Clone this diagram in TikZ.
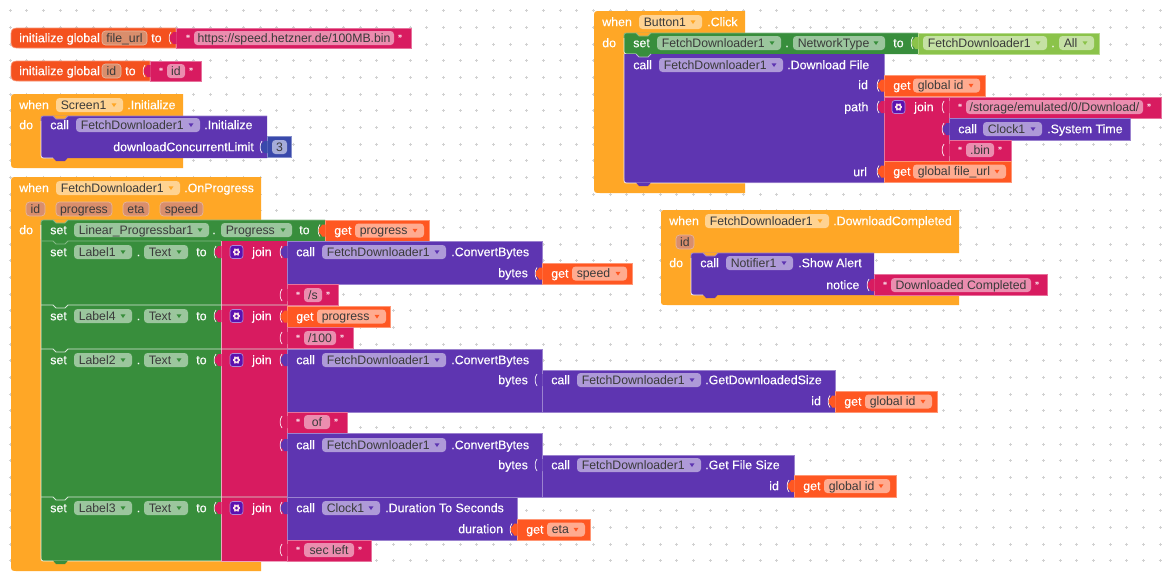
\documentclass[tikz,border=0pt]{standalone}
\usepackage{fontspec}
\setmainfont{Liberation Sans}
\newfontfamily\wf[FakeBold=0.3]{Liberation Sans}
\definecolor{ored}{HTML}{F4511E}
\definecolor{oget}{HTML}{FF5722}
\definecolor{mag}{HTML}{D81B60}
\definecolor{pur}{HTML}{5E35B1}
\definecolor{grn}{HTML}{388E3C}
\definecolor{lgrn}{HTML}{8BC34A}
\definecolor{amb}{HTML}{FFA726}
\definecolor{blu}{HTML}{3949AB}
\definecolor{brn}{HTML}{D98E6C}
\definecolor{ink}{HTML}{3A3A3A}
\definecolor{cogc}{HTML}{5B10B0}
\newcounter{nd}
\tikzset{
 wtext/.style={anchor=base west,inner sep=0pt,text=white,font=\wf\fontsize{9.3}{11}\selectfont},
 dtext/.style={anchor=base,inner sep=0pt,text=ink,font=\fontsize{9.2}{11}\selectfont},
 dltext/.style={anchor=base west,inner sep=0pt,text=ink,font=\fontsize{9.2}{11}\selectfont},
 rim/.style={line width=.55pt,draw=#1!62!white,fill=#1},
}
% plain block
\newcommand{\blk}[5]{\path[rim=#1] (#2,#3) rectangle (#4,#5);}
% block with rounded left corners
\newcommand{\lblk}[5]{\path[rim=#1] (#4,#3) -- ({#2+8},#3) .. controls ({#2+1},#3) and (#2,{#3+1}) .. (#2,{#3+8}) -- (#2,{#5-8}) .. controls (#2,{#5-1}) and ({#2+1},#5) .. ({#2+8},#5) -- (#4,#5) -- cycle;}
% C-block background without rim
\newcommand{\hatb}[5]{\path[fill=#1] (#4,#3) -- ({#2+7},#3) .. controls (#2,#3) and (#2,#3) .. (#2,{#3+7}) -- (#2,{#5-7}) .. controls (#2,#5) and (#2,#5) .. ({#2+7},#5) -- (#4,#5) -- cycle;}
% statement block inside a do: white-rimmed left edge, rounded corners
\newcommand{\stm}[5]{\path[fill=#1] (#4,#3) -- ({#2+5},#3) .. controls (#2,#3) and (#2,#3) .. (#2,{#3+5}) -- (#2,{#5-5}) .. controls (#2,#5) and (#2,#5) .. ({#2+5},#5) -- (#4,#5) -- cycle;
 \draw[line width=.55pt,white!90!#1] (#2,{#3+5}) -- (#2,{#5-5}) .. controls (#2,#5) and (#2,#5) .. ({#2+5},#5) -- ({#2+12},#5);
 \draw[line width=.55pt,#1!62!white] (#4,#3) -- ({#2+5},#3) .. controls (#2,#3) and (#2,#3) .. (#2,{#3+5});}
% top notch of a statement
\newcommand{\notch}[4]{\path[fill=#3] ({#1+12},{#2-.5}) -- ({#1+15},{#2+3}) -- ({#1+24},{#2+3}) -- ({#1+27},{#2-.5}) -- cycle;
 \draw[line width=.55pt,#4] ({#1+12},#2) -- ({#1+15},{#2+3}) -- ({#1+24},{#2+3}) -- ({#1+27},#2);}
% bottom bump of a statement
\newcommand{\bump}[3]{\path[fill=#3] ({#1+12},{#2-.5}) -- ({#1+15},{#2+3}) -- ({#1+24},{#2+3}) -- ({#1+27},{#2-.5}) -- cycle;}
% line between stacked statements
\newcommand{\sep}[4]{\draw[line width=.55pt,#4] (#1,#2) -- ({#1+12},#2) -- ({#1+15},{#2+3}) -- ({#1+24},{#2+3}) -- ({#1+27},#2) -- (#3,#2);}
% output tab: child colour blob with a light arc on its left
\newcommand{\tab}[3]{\path[fill=#3] ({#1+.5},{#2-6}) -- ({#1-3},{#2-6}) .. controls ({#1-4},{#2-2}) and ({#1-7},{#2-4}) .. ({#1-6},{#2}) .. controls ({#1-7},{#2+4}) and ({#1-4},{#2+2}) .. ({#1-3},{#2+6}) -- ({#1+.5},{#2+6}) -- cycle;
 \draw[line width=.55pt,white!85!#3] ({#1-5},{#2-6}) .. controls ({#1-7.5},{#2-3}) and ({#1-7.5},{#2+3}) .. ({#1-5},{#2+6});}
% white label (x, centre y)
\newcommand{\lab}[3]{\stepcounter{nd}\node[wtext] (n\thend) at (#1,{#2+4.2}) {#3};}
% dropdown field
\newcommand{\pill}[5]{\path[fill=white,fill opacity=.5,rounded corners=2.6pt] (#1,{#3-7}) rectangle (#2,{#3+7});
 \stepcounter{nd}\node[dltext] (n\thend) at ({#1+4.5},{#3+4.2}) {#4};
 \path[fill=#5] ({#2-11.5},{#3-1.7}) -- ({#2-6.5},{#3-1.7}) -- ({#2-9},{#3+2}) -- cycle;}
% string field with quotes
\newcommand{\strf}[4]{\stepcounter{nd}\node[wtext] (n\thend) at ({#1-8},{#3+4.2}) {\fontsize{8}{9}\selectfont “};
 \path[fill=white,fill opacity=.5,rounded corners=2.6pt] (#1,{#3-7}) rectangle (#2,{#3+7});
 \stepcounter{nd}\node[dtext] (n\thend) at ({(#1+#2)/2},{#3+4.2}) {#4};
 \stepcounter{nd}\node[wtext] (n\thend) at ({#2+4},{#3+4.2}) {\fontsize{8}{9}\selectfont ”};}
% parameter field
\newcommand{\vpill}[4]{\path[fill=brn,draw=brn!65!white,line width=.5pt,rounded corners=2.6pt] (#1,{#3-7}) rectangle (#2,{#3+7});
 \stepcounter{nd}\node[dtext] (n\thend) at ({(#1+#2)/2},{#3+4.2}) {#4};}
% join mutator icon
\newcommand{\cog}[2]{\path[fill=cogc,draw=white!50!cogc,line width=.5pt,rounded corners=2pt] ({#1-6.5},{#2-6.5}) rectangle ({#1+6.5},{#2+6.5});
 \foreach \a in {0,60,...,300} {\draw[white!85!mag,line width=1.1pt] (#1,#2) -- +(\a:3.9);}
 \path[fill=white!85!mag] (#1,#2) circle[radius=3.2];
 \path[fill=cogc] (#1,#2) circle[radius=1.5];}
% 'get' block
\newcommand{\getb}[7]{\blk{oget}{#1}{#3}{#2}{#4}\tab{#1}{(#3+#4)/2}{oget}\lab{{#1+9}}{(#3+#4)/2}{get}\pill{#5}{#6}{(#3+#4)/2}{#7}{oget}}
\begin{document}
\begin{tikzpicture}[x=.75pt,y=-.75pt]
\useasboundingbox (0,0) rectangle (1170,576);
\fill[white] (0,0) rectangle (1170,576);
% workspace dots
\foreach \i in {0,...,69}{\foreach \j in {0,...,33}{
 \draw[line width=.35pt,black!18] ({10+16.667*\i-1.5},{10.67+16.667*\j}) -- ++(3,0) ({10+16.667*\i},{10.67+16.667*\j-1.5}) -- ++(0,3);}}
%
% initialize global file_url
\lblk{ored}{11}{28}{176}{48}
\lab{19}{38}{initialize global}\vpill{102}{147}{38}{file\_url}\lab{151}{38}{to}
\blk{mag}{176}{28}{411}{48}\tab{176}{38}{mag}
\strf{194}{394}{38}{https://speed.hetzner.de/100MB.bin}
% initialize global id
\lblk{ored}{11}{61}{150}{81}
\lab{19}{71}{initialize global}\vpill{102}{121}{71}{id}\lab{125}{71}{to}
\blk{mag}{150}{61}{201}{81}\tab{150}{71}{mag}
\strf{167}{185}{71}{id}
%
% when Screen1.Initialize
\hatb{amb}{11}{94}{183}{168}
\lab{19}{105}{when}\pill{56}{123}{105}{Screen1}{amb}\lab{127}{105}{.Initialize}
\lab{19}{125}{do}
\stm{pur}{41}{116}{267}{158}\notch{41}{116}{amb}{pur!62!white}\bump{41}{158}{pur}
\lab{50}{125}{call}\pill{76}{200}{125}{FetchDownloader1}{pur}\lab{204}{125}{.Initialize}
\lab{113}{147}{downloadConcurrentLimit}
\blk{blu}{267}{136}{291}{157}\tab{267}{147}{blu}
\path[fill=white,fill opacity=.55,rounded corners=2.6pt] (272,140) rectangle (287,154);
\stepcounter{nd}\node[dtext] (n\thend) at (279.5,151.2) {3};
%
% when FetchDownloader1.OnProgress
\hatb{amb}{11}{177}{261}{571}
\lab{19}{188}{when}\pill{56}{180}{188}{FetchDownloader1}{amb}\lab{184}{188}{.OnProgress}
\vpill{26}{45}{209}{id}\vpill{56}{112}{209}{progress}\vpill{123}{149}{209}{eta}\vpill{160}{203}{209}{speed}
\lab{19}{230}{do}
% green column
\stm{grn}{41}{220}{325}{241}
\notch{41}{220}{amb}{grn!62!white}
\path[fill=grn] (41.3,225) rectangle (221,561);
\path[fill=amb] (40,556) -- (41,561) -- (46,561) .. controls (41,561) and (41,561) .. (41,556) -- cycle;
\draw[line width=.55pt,white!90!grn] (41,225) -- (41,556) .. controls (41,561) and (41,561) .. (46,561) -- (221,561);
\bump{41}{561}{grn}
% magenta join column
\path[fill=mag] (221,241) rectangle (287,561);
\draw[line width=.55pt,white!60!mag] (287,241) -- (287,561);
\draw[line width=.55pt,white!60!mag] (221,241) -- (221,561);
% separators between set blocks
\sep{41}{241}{221}{grn!62!white}
\sep{41}{305}{287}{white!80!grn}
\sep{41}{349}{287}{white!80!grn}
\sep{41}{497}{287}{white!80!grn}
\draw[line width=.55pt,white!60!mag] (221,561) -- (287,561);
%
% Progress row
\lab{50}{230}{set}\pill{74}{209}{230}{Linear\_Progressbar1}{grn}\lab{212}{230}{.}\pill{221}{292}{230}{Progress}{grn}\lab{299}{230}{to}
\getb{325}{429}{220}{241}{355}{424}{progress}
%
\newcommand{\setrow}[2]{\lab{50}{#1}{set}\pill{74}{132}{#1}{#2}{grn}\lab{136.5}{#1}{.}\pill{144}{188}{#1}{Text}{grn}\lab{196}{#1}{to}
 \tab{221}{#1}{mag}\cog{236.5}{#1}\lab{252}{#1}{join}}
% Label1
\setrow{252}{Label1}
\blk{pur}{287}{241}{542}{284}\tab{287}{252}{pur}
\lab{296}{252}{call}\pill{322}{446}{252}{FetchDownloader1}{pur}\lab{451}{252}{.ConvertBytes}
\lab{498}{273}{bytes}
\getb{542}{632}{263}{284}{572}{627}{speed}
\blk{mag}{287}{284}{338}{305}\tab{287}{295}{mag}\strf{304}{322}{295}{/s}
% Label4
\setrow{316}{Label4}
\getb{287}{390}{306}{327}{317}{386}{progress}
\blk{mag}{287}{327}{353}{348}\tab{287}{338}{mag}\strf{304}{336}{338}{/100}
% Label2
\setrow{360}{Label2}
\blk{pur}{287}{349}{542}{412}\tab{287}{360}{pur}
\lab{296}{360}{call}\pill{322}{446}{360}{FetchDownloader1}{pur}\lab{451}{360}{.ConvertBytes}
\lab{498}{380}{bytes}
\blk{pur}{542}{370}{835}{412}\tab{542}{380}{pur}
\lab{551}{380}{call}\pill{577}{701}{380}{FetchDownloader1}{pur}\lab{705}{380}{.GetDownloadedSize}
\lab{811}{401}{id}
\getb{835}{937}{391}{412}{865}{932}{global id}
\blk{mag}{287}{412}{347}{433}\tab{287}{422}{mag}\strf{304}{330}{422}{of}
\blk{pur}{287}{433}{542}{497}\tab{287}{445}{pur}
\lab{296}{445}{call}\pill{322}{446}{445}{FetchDownloader1}{pur}\lab{451}{445}{.ConvertBytes}
\lab{498}{465}{bytes}
\blk{pur}{542}{455}{794}{497}\tab{542}{465}{pur}
\lab{551}{465}{call}\pill{577}{701}{465}{FetchDownloader1}{pur}\lab{705}{465}{.Get File Size}
\lab{769}{486}{id}
\getb{794}{896}{475}{497}{824}{890}{global id}
% Label3
\setrow{508}{Label3}
\blk{pur}{287}{497}{517}{540}\tab{287}{508}{pur}
\lab{296}{508}{call}\pill{322}{380}{508}{Clock1}{pur}\lab{385}{508}{.Duration To Seconds}
\lab{458}{529}{duration}
\getb{517}{590}{519}{540}{547}{585}{eta}
\blk{mag}{287}{540}{371}{561}\tab{287}{550}{mag}\strf{304}{354}{550}{sec left}
%
% when Button1.Click
\hatb{amb}{594}{11}{745}{193}
\lab{602}{22}{when}\pill{639}{702}{22}{Button1}{amb}\lab{707}{22}{.Click}
\lab{602}{43}{do}
\stm{grn}{624}{33}{918}{54}\notch{624}{33}{amb}{grn!62!white}
\lab{633}{43}{set}\pill{657}{781}{43}{FetchDownloader1}{grn}\lab{785}{43}{.}\pill{793}{885}{43}{NetworkType}{grn}\lab{893}{43}{to}
\blk{lgrn}{918}{33}{1099}{54}\tab{918}{43}{lgrn}
\pill{923}{1047}{43}{FetchDownloader1}{lgrn}\lab{1051}{43}{.}\pill{1059}{1094}{43}{All}{lgrn}
\path[fill=pur] (624.3,54) rectangle (884,183);
\path[fill=amb] (623,178) -- (624,183) -- (629,183) .. controls (624,183) and (624,183) .. (624,178) -- cycle;
\draw[line width=.55pt,white!90!pur] (624,54) -- (624,178) .. controls (624,183) and (624,183) .. (629,183) -- (884,183);
\draw[line width=.55pt,pur!62!white] (884,54) -- (884,183);
\notch{624}{54}{grn}{white!60!pur}\bump{624}{183}{pur}
\lab{633}{65}{call}\pill{659}{783}{65}{FetchDownloader1}{pur}\lab{787}{65}{.Download File}
\lab{858}{85}{id}\lab{844}{107}{path}\lab{853}{172}{url}
\getb{884}{985}{75}{96}{913}{980}{global id}
\blk{mag}{884}{97}{949}{161}\tab{884}{107}{mag}\cog{898.5}{107}\lab{914}{107}{join}
\blk{mag}{949}{97}{1161}{118}\tab{949}{107}{mag}\strf{966}{1143}{107}{/storage/emulated/0/Download/}
\blk{pur}{949}{118}{1130}{140}\tab{949}{129}{pur}
\lab{958}{129}{call}\pill{983}{1042}{129}{Clock1}{pur}\lab{1047}{129}{.System Time}
\blk{mag}{949}{140}{1011}{161}\tab{949}{150}{mag}\strf{966}{994}{150}{.bin}
\getb{884}{1011}{161}{182}{913}{1006}{global file\_url}
%
% when FetchDownloader1.DownloadCompleted
\path[fill=amb] (959,210) -- (667,210) .. controls (661,210) and (661,210) .. (661,216) -- (661,299) .. controls (661,305) and (661,305) .. (667,305) -- (959,305) -- (959,295) -- (691,295) -- (691,253) -- (959,253) -- cycle;
\lab{669}{221}{when}\pill{705}{829}{221}{FetchDownloader1}{amb}\lab{833}{221}{.DownloadCompleted}
\vpill{676}{694}{242}{id}
\lab{669}{263}{do}
\stm{pur}{691}{253}{874}{295}\notch{691}{253}{amb}{pur!62!white}\bump{691}{295}{pur}
\lab{700}{263}{call}\pill{726}{793}{263}{Notifier1}{pur}\lab{798}{263}{.Show Alert}
\lab{826}{285}{notice}
\blk{mag}{874}{274}{1047}{295}\tab{874}{285}{mag}\strf{891}{1031}{285}{Downloaded Completed}
\end{tikzpicture}
\end{document}
